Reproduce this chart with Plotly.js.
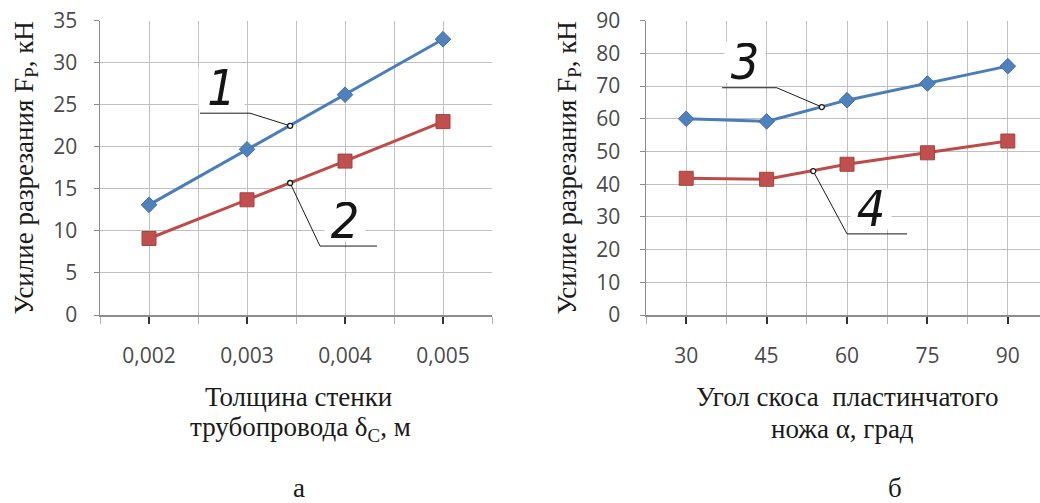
<!DOCTYPE html>
<html>
<head>
<meta charset="utf-8">
<script src="https://cdn.plot.ly/plotly-3.0.1.min.js"></script>
<style>html,body{margin:0;padding:0;background:#fff;}#chart{width:1040px;height:503px;}</style>
</head>
<body>
<div id="chart"></div>
<script>
// ---- data ----
const thickness = [0.002, 0.003, 0.004, 0.005];
const thicknessLabels = ['0,002', '0,003', '0,004', '0,005'];
const force1 = [13.1, 19.7, 26.2, 32.8];
const force2 = [9.1, 13.7, 18.3, 23.0];

const angle = [30, 45, 60, 75, 90];
const angleLabels = ['30', '45', '60', '75', '90'];
const force3 = [60.0, 59.2, 65.7, 70.8, 76.1];
const force4 = [41.8, 41.5, 46.1, 49.6, 53.2];

const yTicksLeft = [0, 5, 10, 15, 20, 25, 30, 35];
const yTicksRight = [0, 10, 20, 30, 40, 50, 60, 70, 80, 90];

const yTitle = 'Усилие разрезания F<sub>Р</sub>, кН';
const xTitleLeft = ['Толщина стенки', 'трубопровода δ<sub>C</sub>, м'];
const xTitleRight = ['Угол скоса\u00a0 пластинчатого', 'ножа α, град'];
const panelLabels = ['а', 'б'];
const curveLabels = ['1', '2', '3', '4'];

// ---- styles ----
const BLUE = '#4a7ebb', RED = '#be4b48';
const GRID = '#c0c0c0', AXIS = '#8c8c8c';
const TICKFONT = {family: 'Open Sans, sans-serif', size: 21, color: '#4a4a4a'};
const SERIF = {family: 'Liberation Serif, Times New Roman, serif', size: 27, color: '#1a1a1a'};
const HAND = {family: 'Liberation Sans Narrow, DejaVu Sans Condensed, sans-serif', size: 50, color: '#151515', style: 'italic'};

const blueMarker = {symbol: 'diamond', size: 12, color: '#4f81bd', line: {color: '#3f6fae', width: 1}};
const redMarker = {symbol: 'square', size: 14, color: '#c0504d', line: {color: '#a8403d', width: 1}};

const traces = [
  {x: thickness, y: force1, xaxis: 'x', yaxis: 'y', mode: 'lines+markers', line: {color: BLUE, width: 3}, marker: blueMarker},
  {x: thickness, y: force2, xaxis: 'x', yaxis: 'y', mode: 'lines+markers', line: {color: RED, width: 3}, marker: redMarker},
  {x: angle, y: force3, xaxis: 'x2', yaxis: 'y2', mode: 'lines+markers', line: {color: BLUE, width: 3}, marker: blueMarker},
  {x: angle, y: force4, xaxis: 'x2', yaxis: 'y2', mode: 'lines+markers', line: {color: RED, width: 3}, marker: redMarker}
];

const yDomain = [1 - 315 / 503, 1 - 20.7 / 503];

function xAxis(domain, range, vals, text, minorStep, anchor) {
  return {
    domain: domain, range: range, anchor: anchor,
    tickmode: 'array', tickvals: vals, ticktext: text,
    ticks: 'outside', ticklen: 7, tickwidth: 2, tickcolor: '#333',
    tickfont: TICKFONT, ticklabelstandoff: 14,
    showgrid: true, gridcolor: GRID, gridwidth: 1,
    showline: true, linecolor: AXIS, linewidth: 1.5,
    zeroline: false, fixedrange: true,
    minor: {dtick: minorStep, tick0: range[0], showgrid: true, gridcolor: GRID, gridwidth: 1,
            ticks: 'outside', ticklen: 7, tickcolor: '#b0b0b0', tickwidth: 1}
  };
}
function yAxis(range, vals, anchor, standoff) {
  return {
    domain: yDomain, range: range, anchor: anchor,
    tickmode: 'array', tickvals: vals,
    ticks: 'outside', ticklen: 5, tickcolor: AXIS,
    tickfont: TICKFONT, ticklabelstandoff: standoff,
    showgrid: true, gridcolor: GRID, gridwidth: 1,
    showline: true, linecolor: AXIS, linewidth: 1.5,
    zeroline: false, fixedrange: true,
    title: {text: yTitle, font: SERIF, standoff: 12}
  };
}

const leader = (xr, yr, pts) => ({
  type: 'path', xref: xr, yref: yr,
  path: 'M ' + pts.map(p => p[0] + ',' + p[1]).join(' L '),
  line: {color: '#1a1a1a', width: 1}
});
const dot = (xr, yr, p) => ({
  type: 'circle', xref: xr, yref: yr, xsizemode: 'pixel', ysizemode: 'pixel',
  xanchor: p[0], yanchor: p[1], x0: -2.5, x1: 2.5, y0: -2.5, y1: 2.5,
  fillcolor: '#ffffff', line: {color: '#1a1a1a', width: 1.3}
});

const shapes = [
  leader('x', 'y', [[0.00252, 24.0], [0.00303, 24.0], [0.00344, 22.5]]),
  dot('x', 'y', [0.00344, 22.5]),
  leader('x', 'y', [[0.00344, 15.7], [0.003745, 8.2], [0.004327, 8.2]]),
  dot('x', 'y', [0.00344, 15.7]),
  leader('x2', 'y2', [[36.7, 69.5], [46.9, 69.5], [55.3, 63.6]]),
  dot('x2', 'y2', [55.3, 63.6]),
  leader('x2', 'y2', [[53.7, 44.0], [60.0, 24.8], [71.2, 24.8]]),
  dot('x2', 'y2', [53.7, 44.0])
];

const txt = (text, px, py, font) => ({
  text: text, xref: 'paper', yref: 'paper', x: px / 1040, y: 1 - py / 503,
  xanchor: 'center', yanchor: 'middle', showarrow: false, font: font
});
const num = (text, xr, yr, x, y, w) => ({
  text: text, xref: xr, yref: yr, x: x, y: y, xanchor: 'center', yanchor: 'middle',
  showarrow: false, font: HAND, bgcolor: '#ffffff', width: w, height: 38, valign: 'middle'
});

const annotations = [
  txt(xTitleLeft[0], 298, 397, SERIF),
  txt(xTitleLeft[1], 300, 429, SERIF),
  txt(xTitleRight[0], 847, 397, SERIF),
  txt(xTitleRight[1], 842, 429, SERIF),
  txt(panelLabels[0], 299, 488, SERIF),
  txt(panelLabels[1], 895, 488, SERIF),
  num(curveLabels[0], 'x', 'y', 0.00274, 27.0, 43),
  num(curveLabels[1], 'x', 'y', 0.00400, 11.2, 38),
  num(curveLabels[2], 'x2', 'y2', 41.0, 77.4, 38),
  num(curveLabels[3], 'x2', 'y2', 64.5, 32.4, 38)
];

const layout = {
  width: 1040, height: 503,
  margin: {l: 0, r: 0, t: 0, b: 0},
  paper_bgcolor: '#ffffff', plot_bgcolor: '#ffffff',
  showlegend: false,
  xaxis: xAxis([100 / 1040, 492 / 1040], [0.0015, 0.0055], thickness, thicknessLabels, 0.0005, 'y'),
  yaxis: yAxis([0, 35], yTicksLeft, 'x', 12),
  xaxis2: xAxis([646 / 1040, 1], [22.5, 96], angle, angleLabels, 7.5, 'y2'),
  yaxis2: yAxis([0, 90], yTicksRight, 'x2', 15),
  shapes: shapes,
  annotations: annotations
};

Plotly.newPlot('chart', traces, layout, {displayModeBar: false, staticPlot: true});
</script>
</body>
</html>
